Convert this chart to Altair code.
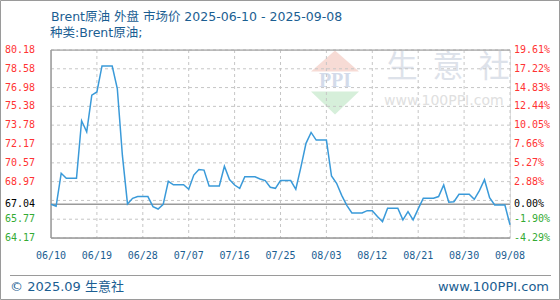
import altair as alt
import pandas as pd

# ---- data -------------------------------------------------------------
dates = [
    "2025-06-10", "2025-06-11", "2025-06-12", "2025-06-13", "2025-06-15",
    "2025-06-16", "2025-06-17", "2025-06-18", "2025-06-19", "2025-06-20",
    "2025-06-22", "2025-06-23", "2025-06-24", "2025-06-25", "2025-06-26",
    "2025-06-27", "2025-06-29", "2025-06-30", "2025-07-01", "2025-07-02",
    "2025-07-03", "2025-07-04", "2025-07-06", "2025-07-07", "2025-07-08",
    "2025-07-09", "2025-07-10", "2025-07-11", "2025-07-13", "2025-07-14",
    "2025-07-15", "2025-07-16", "2025-07-17", "2025-07-18", "2025-07-20",
    "2025-07-21", "2025-07-22", "2025-07-23", "2025-07-24", "2025-07-25",
    "2025-07-27", "2025-07-28", "2025-07-29", "2025-07-30", "2025-07-31",
    "2025-08-01", "2025-08-03", "2025-08-04", "2025-08-05", "2025-08-06",
    "2025-08-07", "2025-08-08", "2025-08-10", "2025-08-11", "2025-08-12",
    "2025-08-13", "2025-08-14", "2025-08-15", "2025-08-17", "2025-08-18",
    "2025-08-19", "2025-08-20", "2025-08-21", "2025-08-22", "2025-08-24",
    "2025-08-25", "2025-08-26", "2025-08-27", "2025-08-28", "2025-08-29",
    "2025-08-31", "2025-09-01", "2025-09-02", "2025-09-03", "2025-09-04",
    "2025-09-05", "2025-09-07", "2025-09-08",
]
prices = [
    67.04, 66.87, 69.68, 69.25, 69.25,
    74.15, 73.21, 76.33, 76.61, 78.82,
    78.82, 76.90, 71.20, 67.07, 67.55,
    67.70, 67.70, 66.84, 66.64, 67.04,
    69.00, 68.70, 68.70, 68.32, 69.53,
    70.00, 69.95, 68.60, 68.60, 70.28,
    69.15, 68.68, 68.40, 69.39, 69.39,
    69.20, 69.06, 68.49, 68.40, 69.06,
    69.06, 68.32, 70.20, 72.23, 73.16,
    72.51, 72.51, 69.45, 68.83, 67.80,
    66.95, 66.30, 66.30, 66.50, 66.50,
    66.00, 65.57, 66.70, 66.70, 65.71,
    66.42, 65.71, 66.65, 67.56, 67.56,
    67.70, 68.68, 67.21, 67.26, 67.89,
    67.89, 67.46, 68.20, 69.13, 67.60,
    66.98, 66.98, 65.30,
]

base_price = 67.04
grid_values = [64.17, 65.77, 67.37, 68.97, 70.57, 72.17, 73.78, 75.38, 76.98, 78.58, 80.18]
label_values = [64.17, 65.77, 67.04, 68.97, 70.57, 72.17, 73.78, 75.38, 76.98, 78.58, 80.18]
left_labels = ["64.17", "65.77", "67.04", "68.97", "70.57", "72.17",
               "73.78", "75.38", "76.98", "78.58", "80.18"]
right_labels = ["-4.29%", "-1.90%", "0.00%", "2.88%", "5.27%", "7.66%",
                "10.05%", "12.44%", "14.83%", "17.22%", "19.61%"]
tick_dates = ["2025-06-10", "2025-06-19", "2025-06-28", "2025-07-07", "2025-07-16",
              "2025-07-25", "2025-08-03", "2025-08-12", "2025-08-21", "2025-08-30",
              "2025-09-08"]
tick_labels = ["06/10", "06/19", "06/28", "07/07", "07/16", "07/25",
               "08/03", "08/12", "08/21", "08/30", "09/08"]

title_text = "Brent原油 外盘 市场价 2025-06-10 - 2025-09-08"
subtitle_text = "种类:Brent原油;"
footer_left = "© 2025.09 生意社"
footer_right = "www.100PPI.com"

# ---- frames -----------------------------------------------------------
start = pd.Timestamp(dates[0])
series = pd.DataFrame({"date": pd.to_datetime(dates), "price": prices})
series["day"] = (series["date"] - start).dt.days

ticks = pd.DataFrame({"date": pd.to_datetime(tick_dates), "label": tick_labels})
ticks["day"] = (ticks["date"] - start).dt.days
last_day = int(ticks["day"].max())

labels = pd.DataFrame({"v": label_values, "left": left_labels, "right": right_labels})
labels["tone"] = ["up" if v > base_price + 1e-9 else ("base" if abs(v - base_price) < 1e-9 else "down")
                  for v in labels["v"]]

W, H = 459, 188
PAD_L, PAD_T = 51, 50

BLUE_TXT = "#1b5e92"
GRID = "#c6c6c6"
FRAME = "#9a9a9a"
MONO = "DejaVu Sans Mono"
SANS = '"DejaVu Sans", "Noto Sans CJK SC"'

xs = alt.Scale(domain=[0, last_day], nice=False, zero=False)
ys = alt.Scale(domain=[grid_values[0], grid_values[-1]], nice=False, zero=False)
tone_scale = alt.Scale(domain=["up", "base", "down"], range=["#ff3333", "#000000", "#33aa33"])

blank = pd.DataFrame({"k": [0]})

# ---- watermark ----------------------------------------------------------
tri_up = alt.Chart(blank).mark_point(
    shape="M0,-0.44L1,0.44L-1,0.44Z", size=2304, filled=True, color="#f7dbd5", opacity=1
).encode(x=alt.value(284), y=alt.value(11))
tri_down = alt.Chart(blank).mark_point(
    shape="M-1,-0.48L1,-0.48L0,0.48Z", size=2304, filled=True, color="#d6efda", opacity=1
).encode(x=alt.value(284), y=alt.value(53))
ppi_txt = alt.Chart(blank).mark_text(
    text="PPI", font="Liberation Serif", fontSize=20, fontWeight="bold",
    color="#d3dbea", align="center", baseline="middle"
).encode(x=alt.value(284), y=alt.value(31))
brand = pd.DataFrame({"ch": ["生", "意", "社"], "px": [351, 397, 443]})
brand_txt = alt.Chart(brand).mark_text(
    font="Noto Sans CJK SC", fontSize=31, color="#dde2ea", align="center", baseline="middle"
).encode(x=alt.X("px:Q", scale=None), y=alt.value(18), text="ch:N")
site_wm = alt.Chart(blank).mark_text(
    text="www.100PPI.com", font="DejaVu Sans", fontSize=14, color="#e0e0e0",
    align="left", baseline="middle"
).encode(x=alt.value(333), y=alt.value(51))

# ---- grid and frame -----------------------------------------------------
hgrid = alt.Chart(pd.DataFrame({"v": grid_values})).mark_rule(
    color=GRID, strokeDash=[3, 3], strokeWidth=1
).encode(y=alt.Y("v:Q", scale=ys, axis=None), x=alt.value(0), x2=alt.value(W))

vgrid = alt.Chart(ticks[ticks["day"] > 0]).mark_rule(
    color=GRID, strokeDash=[3, 3], strokeWidth=1
).encode(x=alt.X("day:Q", scale=xs, axis=None), y=alt.value(0), y2=alt.value(H))

left_edge = alt.Chart(blank).mark_rule(color=FRAME, strokeWidth=1.5).encode(
    x=alt.value(0), y=alt.value(0), y2=alt.value(H))
top_edge = alt.Chart(blank).mark_rule(color=FRAME, strokeWidth=1).encode(
    x=alt.value(0), x2=alt.value(W), y=alt.value(0))
bottom_edge = alt.Chart(blank).mark_rule(color=FRAME, strokeWidth=1.5).encode(
    x=alt.value(0), x2=alt.value(W), y=alt.value(H))

baseline = alt.Chart(pd.DataFrame({"v": [base_price]})).mark_rule(
    color=FRAME, strokeWidth=1.5
).encode(y=alt.Y("v:Q", scale=ys, axis=None), x=alt.value(0), x2=alt.value(W))

# ---- price line ---------------------------------------------------------
line = alt.Chart(series).mark_line(color="#3a9ad9", strokeWidth=1.5).encode(
    x=alt.X("day:Q", scale=xs, axis=None),
    y=alt.Y("price:Q", scale=ys, axis=None),
)

# ---- axis labels --------------------------------------------------------
left_axis = alt.Chart(labels).mark_text(
    font=MONO, fontSize=10, align="left", baseline="middle"
).encode(
    x=alt.value(-46), y=alt.Y("v:Q", scale=ys, axis=None), text="left:N",
    color=alt.Color("tone:N", scale=tone_scale, legend=None),
)
right_axis = alt.Chart(labels).mark_text(
    font=MONO, fontSize=10, align="left", baseline="middle"
).encode(
    x=alt.value(W + 4), y=alt.Y("v:Q", scale=ys, axis=None), text="right:N",
    color=alt.Color("tone:N", scale=tone_scale, legend=None),
)
x_axis = alt.Chart(ticks).mark_text(
    font=MONO, fontSize=10, align="center", baseline="middle", color=BLUE_TXT
).encode(x=alt.X("day:Q", scale=xs, axis=None), y=alt.value(H + 18), text="label:N")

# ---- titles and footer --------------------------------------------------
title = alt.Chart(blank).mark_text(
    text=title_text, font=SANS, fontSize=12.5, color=BLUE_TXT, align="left", baseline="middle"
).encode(x=alt.value(0), y=alt.value(-33))
subtitle = alt.Chart(blank).mark_text(
    text=subtitle_text, font=SANS, fontSize=12.5, color=BLUE_TXT, align="left", baseline="middle"
).encode(x=alt.value(-1), y=alt.value(-17))

separator = alt.Chart(blank).mark_rule(color=FRAME, strokeWidth=1).encode(
    x=alt.value(-41), x2=alt.value(500), y=alt.value(225.5))
foot_l = alt.Chart(blank).mark_text(
    text=footer_left, font=SANS, fontSize=13, color=BLUE_TXT, align="left", baseline="middle"
).encode(x=alt.value(-41), y=alt.value(237))
foot_r = alt.Chart(blank).mark_text(
    text=footer_right, font=SANS, fontSize=13, color=BLUE_TXT, align="right", baseline="middle"
).encode(x=alt.value(498), y=alt.value(237))

outer = alt.Chart(blank).mark_rect(fill=None, stroke=FRAME, strokeWidth=1).encode(
    x=alt.value(-PAD_L + 0.5), x2=alt.value(560 - PAD_L - 0.5),
    y=alt.value(-PAD_T + 0.5), y2=alt.value(300 - PAD_T - 0.5))

chart = alt.layer(
    tri_up, tri_down, ppi_txt, brand_txt, site_wm,
    hgrid, vgrid, left_edge, top_edge, bottom_edge, baseline,
    line, left_axis, right_axis, x_axis,
    title, subtitle, separator, foot_l, foot_r, outer,
).properties(
    width=W, height=H,
    autosize=alt.AutoSizeParams(type="none"),
    padding={"left": PAD_L, "top": PAD_T, "right": 560 - PAD_L - W, "bottom": 300 - PAD_T - H},
).configure_view(stroke=None).configure(background="white")

chart.save("out.html", embed_options={"renderer": "svg", "actions": False})
